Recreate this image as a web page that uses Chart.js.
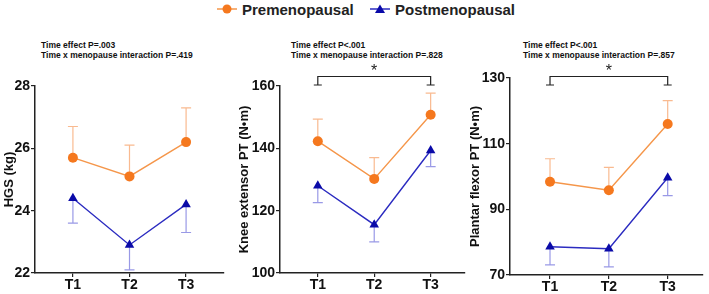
<!DOCTYPE html>
<html>
<head>
<meta charset="utf-8">
<script src="https://cdn.jsdelivr.net/npm/chart.js@4.4.1/dist/chart.umd.min.js"></script>
<style>
  body { margin: 0; background: #fff; }
  #wrap { position: relative; width: 709px; height: 294px; overflow: hidden; font-family: "Liberation Sans", Arial, sans-serif; }
  canvas { position: absolute; top: 0; }
  .legend { position: absolute; top: 0; height: 18px; font-size: 15px; font-weight: bold; color: #222; display: flex; align-items: center; }
  .legend svg { margin-right: 5px; }
  .note { position: absolute; font-size: 8.5px; font-weight: bold; color: #111; line-height: 10px; white-space: nowrap; }
</style>
</head>
<body>
<div id="wrap">
  <div class="legend" style="left:217px;">
    <svg width="20" height="12"><line x1="0" y1="6" x2="20" y2="6" stroke="#f5964a" stroke-width="1.5"/><circle cx="10" cy="6" r="4.5" fill="#f5781e"/></svg>Premenopausal
  </div>
  <div class="legend" style="left:370px;">
    <svg width="20" height="12"><line x1="0" y1="6" x2="20" y2="6" stroke="#2b2bc0" stroke-width="1.5"/><polygon points="10,1.5 15,10 5,10" fill="#0a0aa8"/></svg>Postmenopausal
  </div>
  <div class="note" style="left:41px; top:40px;">Time effect P=.003<br>Time x menopause interaction P=.419</div>
  <div class="note" style="left:291px; top:40px;">Time effect P&lt;.001<br>Time x menopause interaction P=.828</div>
  <div class="note" style="left:523px; top:40px;">Time effect P&lt;.001<br>Time x menopause interaction P=.857</div>
  <canvas id="c1" width="235" height="294" style="left:0px"></canvas>
  <canvas id="c2" width="235" height="294" style="left:235px"></canvas>
  <canvas id="c3" width="239" height="294" style="left:470px"></canvas>
</div>
<script>
const timeLabels = ["T1", "T2", "T3"];

// HGS (kg)
const hgsPre = [25.7, 25.1, 26.2];
const hgsPreErr = [1.0, 1.0, 1.1];
const hgsPost = [24.4, 22.9, 24.2];
const hgsPostErr = [0.8, 0.8, 0.9];

// Knee extensor PT (N•m)
const kneePre = [142.3, 130.2, 150.8];
const kneePreErr = [7.1, 6.8, 6.9];
const kneePost = [128.0, 115.5, 139.3];
const kneePostErr = [5.4, 5.5, 5.2];

// Plantar flexor PT (N•m)
const plantarPre = [98.4, 95.8, 116.0];
const plantarPreErr = [7.0, 7.0, 7.1];
const plantarPost = [78.6, 78.0, 99.6];
const plantarPostErr = [5.5, 5.5, 5.4];

const orange = "#f5781e";
const orangeLine = "#f5964a";
const blue = "#0a0aa8";
const blueLine = "#2b2bc0";

//Error bars: pre goes up, post goes down
const errorBars = {
  id: "errorBars",
  beforeDatasetsDraw(chart) {
    const ctx = chart.ctx;
    const y = chart.scales.y;
    chart.data.datasets.forEach((ds, i) => {
      const meta = chart.getDatasetMeta(i);
      ctx.save();
      ctx.strokeStyle = ds.errColor;
      ctx.lineWidth = 1.2;
      meta.data.forEach((pt, j) => {
        const v = ds.data[j].y + ds.errDir * ds.err[j];
        const yp = y.getPixelForValue(v);
        ctx.beginPath();
        ctx.moveTo(pt.x, pt.y);
        ctx.lineTo(pt.x, yp);
        ctx.moveTo(pt.x - 5, yp);
        ctx.lineTo(pt.x + 5, yp);
        ctx.stroke();
      });
      ctx.restore();
    });
  },
};

//Significance bracket between T1 and T3
const bracket = {
  id: "bracket",
  afterDraw(chart, args, opts) {
    if (!opts.show) return;
    const ctx = chart.ctx;
    const x1 = chart.scales.x.getPixelForValue(1);
    const x3 = chart.scales.x.getPixelForValue(3);
    ctx.save();
    ctx.strokeStyle = "#222";
    ctx.lineWidth = 1.2;
    ctx.beginPath();
    ctx.moveTo(x1, 85);
    ctx.lineTo(x1, 76.5);
    ctx.lineTo(x3, 76.5);
    ctx.lineTo(x3, 85);
    ctx.moveTo(x1 - 4, 85);
    ctx.lineTo(x1 + 4, 85);
    ctx.moveTo(x3 - 4, 85);
    ctx.lineTo(x3 + 4, 85);
    ctx.stroke();
    ctx.fillStyle = "#222";
    ctx.font = "16px 'Liberation Sans', Arial";
    ctx.textAlign = "center";
    ctx.textBaseline = "middle";
    ctx.fillText("*", (x1 + x3) / 2, 72);
    ctx.restore();
  },
};

function points(values) {
  return values.map((v, i) => ({ x: i + 1, y: v }));
}

function makePanel(canvasId, cfg) {
  const ctx = document.getElementById(canvasId).getContext("2d");
  return new Chart(ctx, {
    type: "line",
    data: {
      datasets: [
        {
          label: "Premenopausal",
          data: points(cfg.pre),
          err: cfg.preErr,
          errDir: 1,
          errColor: "rgba(245,140,70,0.6)",
          borderColor: orangeLine,
          borderWidth: 1.4,
          pointStyle: "circle",
          pointRadius: 5,
          pointBackgroundColor: orange,
          pointBorderColor: orange,
          pointBorderWidth: 0,
        },
        {
          label: "Postmenopausal",
          data: points(cfg.post),
          err: cfg.postErr,
          errDir: -1,
          errColor: "rgba(70,70,210,0.55)",
          borderColor: blueLine,
          borderWidth: 1.4,
          pointStyle: "triangle",
          pointRadius: 5.5,
          pointBackgroundColor: blue,
          pointBorderColor: blue,
          pointBorderWidth: 0,
        },
      ],
    },
    options: {
      responsive: false,
      animation: false,
      events: [],
      layout: { padding: { top: cfg.top, right: cfg.right, left: 0, bottom: 0 } },
      plugins: {
        legend: { display: false },
        tooltip: { enabled: false },
        bracket: { show: cfg.bracket },
      },
      scales: {
        x: {
          type: "linear",
          min: cfg.xMin,
          max: cfg.xMax,
          afterBuildTicks: (s) => {
            s.ticks = timeLabels.map((t, i) => ({ value: i + 1 }));
          },
          afterFit: (s) => {
            s.height = cfg.bottom;
          },
          ticks: {
            callback: (v) => timeLabels[v - 1],
            color: "#111",
            font: { size: 14, weight: "bold", family: "'Liberation Sans', Arial" },
            padding: 0,
            maxRotation: 0,
          },
          grid: { drawOnChartArea: false, drawTicks: true, tickLength: 4, color: "#222", lineWidth: 1.2 },
          border: { color: "#222", width: 1.5 },
        },
        y: {
          min: cfg.yMin,
          max: cfg.yMax,
          afterBuildTicks: (s) => {
            const t = [];
            for (let v = cfg.yMin; v <= cfg.yMax; v += cfg.yStep) t.push({ value: v });
            s.ticks = t;
          },
          afterFit: (s) => {
            s.width = cfg.axisX;
          },
          ticks: {
            color: "#111",
            font: { size: 14, weight: "bold", family: "'Liberation Sans', Arial" },
            padding: 1,
          },
          grid: { drawOnChartArea: false, drawTicks: true, tickLength: 4, color: "#222", lineWidth: 1.2 },
          border: { color: "#222", width: 1.5 },
          title: {
            display: true,
            text: cfg.yTitle,
            color: "#111",
            font: { size: 13, weight: "bold", family: "'Liberation Sans', Arial" },
            padding: { top: cfg.titlePad, bottom: 0 },
          },
        },
      },
    },
    plugins: [errorBars, bracket],
  });
}

makePanel("c1", {
  pre: hgsPre, preErr: hgsPreErr, post: hgsPost, postErr: hgsPostErr,
  yMin: 22, yMax: 28, yStep: 2, yTitle: "HGS (kg)",
  axisX: 35, top: 86, bottom: 21, right: 11, xMin: 0.33, xMax: 3.67, titlePad: 2, bracket: false,
});
makePanel("c2", {
  pre: kneePre, preErr: kneePreErr, post: kneePost, postErr: kneePostErr,
  yMin: 100, yMax: 160, yStep: 20, yTitle: "Knee extensor PT (N•m)",
  axisX: 45, top: 86, bottom: 21, right: 5, xMin: 0.33, xMax: 3.6, titlePad: 2, bracket: true,
});
makePanel("c3", {
  pre: plantarPre, preErr: plantarPreErr, post: plantarPost, postErr: plantarPostErr,
  yMin: 70, yMax: 130, yStep: 20, yTitle: "Plantar flexor PT (N•m)",
  axisX: 40, top: 78, bottom: 19, right: 6, xMin: 0.32, xMax: 3.6, titlePad: -2, bracket: true,
});
</script>
</body>
</html>
